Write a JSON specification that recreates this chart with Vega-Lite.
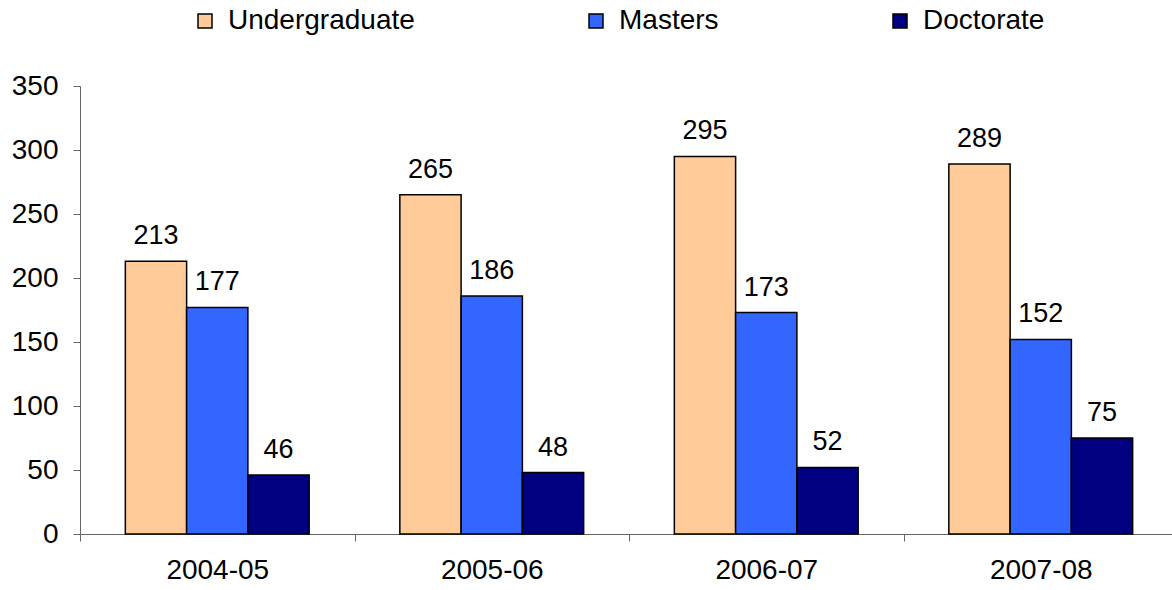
{
  "$schema": "https://vega.github.io/schema/vega-lite/v6.json",
  "width": 1092,
  "height": 448,
  "autosize": {"type": "none"},
  "padding": {"left": 80, "top": 86, "right": 0, "bottom": 56},
  "background": "white",
  "config": {
    "font": "Liberation Sans",
    "view": {"stroke": null}
  },
  "data": {
    "values": [
      {"year": "2004-05", "degree": "Undergraduate", "count": 213},
      {"year": "2004-05", "degree": "Masters", "count": 177},
      {"year": "2004-05", "degree": "Doctorate", "count": 46},
      {"year": "2005-06", "degree": "Undergraduate", "count": 265},
      {"year": "2005-06", "degree": "Masters", "count": 186},
      {"year": "2005-06", "degree": "Doctorate", "count": 48},
      {"year": "2006-07", "degree": "Undergraduate", "count": 295},
      {"year": "2006-07", "degree": "Masters", "count": 173},
      {"year": "2006-07", "degree": "Doctorate", "count": 52},
      {"year": "2007-08", "degree": "Undergraduate", "count": 289},
      {"year": "2007-08", "degree": "Masters", "count": 152},
      {"year": "2007-08", "degree": "Doctorate", "count": 75}
    ]
  },
  "encoding": {
    "x": {
      "field": "year",
      "type": "nominal",
      "scale": {"paddingInner": 0, "paddingOuter": 0, "range": [0, 1098]},
      "axis": {
        "title": null,
        "labelAngle": 0,
        "labelFontSize": 28,
        "labelColor": "black",
        "labelPadding": 15,
        "tickBand": "extent",
        "tickSize": 7,
        "tickColor": "#666666",
        "domainColor": "#666666",
        "grid": false
      }
    },
    "xOffset": {
      "field": "degree",
      "type": "nominal",
      "sort": ["Undergraduate", "Masters", "Doctorate"],
      "scale": {"paddingInner": 0, "paddingOuter": 0.74}
    },
    "y": {
      "field": "count",
      "type": "quantitative",
      "scale": {"domain": [0, 350], "nice": false},
      "axis": {
        "title": null,
        "values": [0, 50, 100, 150, 200, 250, 300, 350],
        "labelFontSize": 28,
        "labelColor": "black",
        "labelPadding": 15,
        "tickSize": 7,
        "tickColor": "#666666",
        "domainColor": "#666666",
        "grid": false
      }
    }
  },
  "layer": [
    {
      "mark": {"type": "bar", "stroke": "black", "strokeWidth": 1.5, "opacity": 1},
      "encoding": {
        "color": {
          "field": "degree",
          "type": "nominal",
          "sort": ["Undergraduate", "Masters", "Doctorate"],
          "scale": {
            "domain": ["Undergraduate", "Masters", "Doctorate"],
            "range": ["#FFCC99", "#3366FF", "#000080"]
          },
          "legend": {
            "title": null,
            "orient": "none",
            "legendX": 111,
            "legendY": -79,
            "direction": "horizontal",
            "symbolType": "square",
            "symbolSize": 196,
            "symbolStrokeColor": "black",
            "symbolStrokeWidth": 1.5,
            "symbolOpacity": 1,
            "labelFontSize": 28,
            "labelColor": "black",
            "labelOffset": 9,
            "columnPadding": 167,
            "labelLimit": 400
          }
        }
      }
    },
    {
      "mark": {"type": "text", "fontSize": 27, "color": "black", "baseline": "alphabetic", "dy": -17},
      "encoding": {
        "text": {"field": "count", "type": "quantitative"}
      }
    }
  ]
}
